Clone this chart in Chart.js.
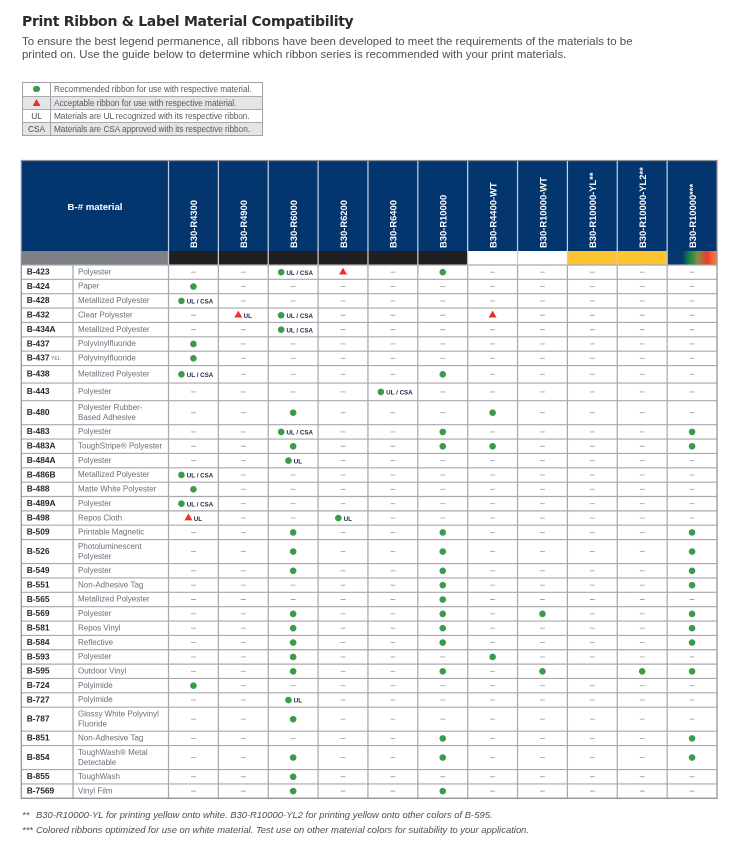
<!DOCTYPE html>
<html><head><meta charset="utf-8">
<script src="https://cdn.jsdelivr.net/npm/chart.js@4/dist/chart.umd.min.js"></script>
<style>
html,body{margin:0;padding:0;background:#fff;width:735px;height:863px;overflow:hidden}
#c{position:absolute;left:0;top:0}
.t{position:absolute;white-space:nowrap;font-family:"Liberation Sans",sans-serif}
#title{left:22px;top:11px;font:700 14px/20px "DejaVu Sans",sans-serif;color:#2c2c2e;letter-spacing:-.3px}
.intro{left:22px;font-size:11.46px;line-height:14px;color:#4d4f52}
.foot{font-style:italic;font-size:9.43px;line-height:12px;color:#4d4f52}
#head{left:22px;width:146px;top:201px;text-align:center;font:700 9.6px/12px "Liberation Sans",sans-serif;color:#fff}
#legend{position:absolute;left:22px;top:81.5px;width:238.5px;border:1.2px solid #a0a2a5;font:8.3px/12px "Liberation Sans",sans-serif;color:#585a5e}
#legend .r{display:flex;align-items:center;height:13px;box-sizing:border-box;border-top:1px solid #a9abae}
#legend .r:first-child{border-top:0}
#legend .r.s{background:#e4e5e6}
#legend .k{width:27px;height:100%;border-right:1.2px solid #a0a2a5;display:flex;align-items:center;justify-content:center;color:#45494e}
#legend .v{padding-left:3px;white-space:nowrap;letter-spacing:-.06px}
.dot{width:6.6px;height:6.6px;border-radius:50%;background:#3b9b48}
.tri{width:8px;height:7px;background:#ee3029;clip-path:polygon(50% 0,100% 100%,0 100%)}
</style></head><body>
<canvas id="c" width="735" height="863" style="width:735px;height:863px"></canvas>
<div class="t" id="title">Print Ribbon &amp; Label Material Compatibility</div>
<div class="t intro" style="top:34px">To ensure the best legend permanence, all ribbons have been developed to meet the requirements of the materials to be</div>
<div class="t intro" style="top:47px">printed on. Use the guide below to determine which ribbon series is recommended with your print materials.</div>
<div id="legend">
<div class="r"><div class="k"><div class="dot"></div></div><div class="v">Recommended ribbon for use with respective material.</div></div>
<div class="r s"><div class="k"><div class="tri"></div></div><div class="v">Acceptable ribbon for use with respective material.</div></div>
<div class="r"><div class="k">UL</div><div class="v">Materials are UL recognized with its respective ribbon.</div></div>
<div class="r s"><div class="k">CSA</div><div class="v">Materials are CSA approved with its respective ribbon.</div></div>
</div>
<div class="t" id="head">B-# material</div>
<div class="t foot" style="left:22px;top:809px">**</div>
<div class="t foot" style="left:36px;top:809px">B30-R10000-YL for printing yellow onto white. B30-R10000-YL2 for printing yellow onto other colors of B-595.</div>
<div class="t foot" style="left:22px;top:824px">***</div>
<div class="t foot" style="left:36px;top:824px">Colored ribbons optimized for use on white material. Test use on other material colors for suitability to your application.</div>
<script>
const _ = '–', N = '', G = 'G', GU = 'G UL', GC = 'G UL / CSA', T = 'T', TU = 'T UL';

const ribbons = ['B30-R4300','B30-R4900','B30-R6000','B30-R6200','B30-R6400','B30-R10000','B30-R4400-WT','B30-R10000-WT','B30-R10000-YL**','B30-R10000-YL2**','B30-R10000***'];
const materials = ['B-423','B-424','B-428','B-432','B-434A','B-437','B-437','B-438','B-443','B-480','B-483','B-483A','B-484A','B-486B','B-488','B-489A','B-498','B-509','B-526','B-549','B-551','B-565','B-569','B-581','B-584','B-593','B-595','B-724','B-727','B-787','B-851','B-854','B-855','B-7569'];
const substrates = ['Polyester','Paper','Metallized Polyester','Clear Polyester','Metallized Polyester','Polyvinylfluoride','Polyvinylfluoride','Metallized Polyester','Polyester',['Polyester Rubber-','Based Adhesive'],'Polyester','ToughStripe® Polyester','Polyester','Metallized Polyester','Matte White Polyester','Polyester','Repos Cloth','Printable Magnetic',['Photoluminescent','Polyester'],'Polyester','Non-Adhesive Tag','Metallized Polyester','Polyester','Repos Vinyl','Reflective','Polyester','Outdoor Vinyl','Polyimide','Polyimide',['Glossy White Polyvinyl','Fluoride'],'Non-Adhesive Tag',['ToughWash® Metal','Detectable'],'ToughWash','Vinyl Film'];

const r4300    = [_,G,GC,_,_,G,G,GC,_,_,  _,_,_,GC,G,GC,TU,_,_,_,  _,_,_,_,_,_,_,G,_,_,  _,_,_,_];
const r4900    = [_,_,_,TU,_,_,_,_,_,_,   _,_,_,_,_,_,_,_,_,_,     _,_,_,_,_,_,_,_,_,_,  _,_,_,_];
const r6000    = [GC,_,_,GC,GC,_,_,_,_,G, GC,G,GU,_,_,_,_,G,G,G,   _,_,G,G,G,G,G,_,GU,G, _,G,G,G];
const r6200    = [T,_,_,_,_,_,_,_,_,_,    _,_,_,_,_,_,GU,_,_,_,    _,_,_,_,_,_,_,_,_,_,  _,_,_,_];
const r6400    = [_,_,_,_,_,_,_,_,GC,_,   _,_,_,_,_,_,_,_,_,_,     _,_,_,_,_,_,_,_,_,_,  _,_,_,_];
const r10000   = [G,_,_,_,_,_,_,G,_,_,    G,G,_,_,_,_,_,G,G,G,     G,G,G,G,G,_,G,_,_,_,  G,G,_,G];
const r4400wt  = [_,_,_,T,_,_,_,_,_,G,    _,G,_,_,_,_,_,_,_,_,     _,_,_,_,_,G,_,_,_,_,  _,_,_,_];
const r10000wt = [_,_,_,_,_,_,_,_,_,_,    _,_,_,_,_,_,_,_,_,_,     _,_,G,_,_,_,G,_,_,_,  _,_,_,_];
const r10000yl = [_,_,_,_,_,_,_,_,_,_,    _,_,_,_,_,_,_,_,_,_,     _,_,_,_,_,_,N,_,_,_,  _,_,_,_];
const r10000y2 = [_,_,_,_,_,_,_,_,_,_,    _,_,_,_,_,_,_,_,_,_,     _,_,_,_,_,_,G,_,_,_,  _,_,_,_];
const r10000c  = [_,_,_,_,_,_,_,_,_,_,    G,G,_,_,_,_,_,G,G,G,     G,_,G,G,G,_,G,_,_,_,  G,G,_,_];
const ribbonCells = [r4300,r4900,r6000,r6200,r6400,r10000,r4400wt,r10000wt,r10000yl,r10000y2,r10000c];

/* layout only */
const rowSpan = i => Array.isArray(substrates[i]) ? 1.672 : (i === 7 || i === 8) ? 1.225 : 1;
const edges = [0]; materials.forEach((m, i) => edges.push(edges[i] + rowSpan(i)));
const centers = materials.map((m, i) => (edges[i] + edges[i + 1]) / 2);
const COLW = 49.85;
const shift = { 'G UL / CSA': -12, 'G UL': -4.7, 'T UL': -5 };

const green = [], red = [], dash = [], notes = [];
ribbonCells.forEach((cells, c) => cells.forEach((v, r) => {
  if (v === N) return;
  if (v === _) { dash.push({ x: c, y: centers[r] }); return; }
  const p = { x: c + (shift[v] || 0) / COLW, y: centers[r] };
  (v[0] === 'G' ? green : red).push(p);
  if (v.length > 1) notes.push({ text: v.slice(2), x: p.x, y: centers[r] });
}));

const fontBody = '"Liberation Sans", sans-serif';
const tablePlugin = {
  id: 'table',
  beforeDraw(ch) {
    const g = ch.ctx, X = ch.scales.x, Y = ch.scales.y, L = 21.3, R = X.right, HT = 160.5, HB = 251, BB = Y.top;
    const cx = i => X.getPixelForValue(i - 0.5);
    g.save();
    g.fillStyle = '#03356f'; g.fillRect(L, HT, R - L, HB - HT);
    g.fillStyle = '#7d8085'; g.fillRect(L, HB, X.left - L, BB - HB);
    const bands = ['#221f20','#221f20','#221f20','#221f20','#221f20','#221f20','#ffffff','#ffffff','#fec42f','#fec42f'];
    bands.forEach((b, i) => { g.fillStyle = b; g.fillRect(cx(i), HB, COLW, BB - HB); });
    const gr = g.createLinearGradient(cx(10), 0, cx(11), 0);
    [[0.1,'#06376f'],[0.3,'#06376f'],[0.45,'#0f8a45'],[0.62,'#8f8a45'],[0.8,'#ee3a2c'],[1,'#f58a3c']].forEach(s => gr.addColorStop(s[0], s[1]));
    g.fillStyle = gr; g.fillRect(cx(10), HB, COLW, BB - HB);
    g.strokeStyle = '#a7a9ac'; g.lineWidth = 1.15;
    edges.forEach(e => { const y = Y.getPixelForValue(e); g.beginPath(); g.moveTo(L, y); g.lineTo(R, y); g.stroke(); });
    g.lineWidth = 1.25;
    for (let i = 1; i < 11; i++) {
      g.strokeStyle = '#a7a9ac'; g.beginPath(); g.moveTo(cx(i), BB); g.lineTo(cx(i), Y.bottom); g.stroke();
      g.strokeStyle = '#c4cfdd'; g.beginPath(); g.moveTo(cx(i), HT); g.lineTo(cx(i), BB); g.stroke();
    }
    g.strokeStyle = '#a7a9ac';
    [[73, BB, 73, Y.bottom],[X.left, BB, X.left, Y.bottom]].forEach(a => { g.beginPath(); g.moveTo(a[0], a[1]); g.lineTo(a[2], a[3]); g.stroke(); });
    g.beginPath(); g.strokeStyle = '#c4cfdd'; g.moveTo(X.left, HT); g.lineTo(X.left, BB); g.stroke();
    g.strokeStyle = '#8f9296';
    g.strokeRect(L, HT, R - L, Y.bottom - HT);
    g.restore();
  },
  afterDatasetsDraw(ch) {
    const g = ch.ctx, X = ch.scales.x, Y = ch.scales.y;
    g.save();
    g.fillStyle = '#1c2742'; g.textBaseline = 'middle'; g.textAlign = 'left';
    g.font = '700 6.2px "Liberation Sans Narrow", ' + fontBody;
    notes.forEach(n => g.fillText(n.text, X.getPixelForValue(n.x) + 5.3, Y.getPixelForValue(n.y) + 1));
    g.font = '5px ' + fontBody; g.fillStyle = '#6b7077';
    g.fillText('YEL', 51, Y.getPixelForValue(centers[6]) + 0.5);
    g.restore();
  }
};

new Chart(document.getElementById('c'), {
  type: 'scatter',
  plugins: [tablePlugin],
  data: { datasets: [
    { label: 'Recommended', data: green, pointStyle: 'circle', pointRadius: 3.3, backgroundColor: '#3b9b48', borderWidth: 0 },
    { label: 'Acceptable', data: red, pointStyle: 'triangle', pointRadius: 4.6, backgroundColor: '#ee3029', borderWidth: 0 },
    { label: 'Not applicable', data: dash, pointStyle: 'line', pointRadius: 2.4, borderColor: '#a3a3a5', borderWidth: 0.9 }
  ]},
  options: {
    responsive: false, animation: false, devicePixelRatio: 2,
    layout: { padding: { left: 26.7, right: 18, top: 0, bottom: 64.7 } },
    plugins: { legend: { display: false }, tooltip: { enabled: false } },
    events: [],
    scales: {
      x: {
        type: 'linear', position: 'top', min: -0.5, max: 10.5,
        grid: { display: false }, border: { display: false },
        afterBuildTicks: s => { s.ticks = ribbons.map((r, i) => ({ value: i })); },
        afterFit: s => { s.height = 265; },
        ticks: { autoSkip: false, minRotation: 90, maxRotation: 90, padding: 9, labelOffset: 12.5, color: '#fff',
          font: { family: 'Liberation Sans', size: 9.4, weight: 'bold' },
          callback: (v, i) => ribbons[i] }
      },
      y: {
        type: 'linear', position: 'left', weight: 1, reverse: true, min: 0, max: edges[edges.length - 1],
        grid: { display: false }, border: { display: false },
        afterBuildTicks: s => { s.ticks = centers.map(v => ({ value: v })); },
        afterFit: s => { s.width = 51.3; },
        ticks: { autoSkip: false, crossAlign: 'far', padding: 0, color: '#26262a',
          font: { family: 'Liberation Sans', size: 8.4, weight: 'bold' },
          callback: (v, i) => materials[i] }
      },
      ySub: {
        type: 'linear', position: 'left', weight: 0, reverse: true, min: 0, max: edges[edges.length - 1],
        grid: { display: false }, border: { display: false },
        afterBuildTicks: s => { s.ticks = centers.map(v => ({ value: v })); },
        afterFit: s => { s.width = 90.5; },
        ticks: { autoSkip: false, crossAlign: 'far', padding: 0, color: '#6a7078',
          font: { family: 'Liberation Sans', size: 8, lineHeight: 1.25 },
          callback: (v, i) => substrates[i] }
      }
    }
  }
});
</script>
</body></html>
